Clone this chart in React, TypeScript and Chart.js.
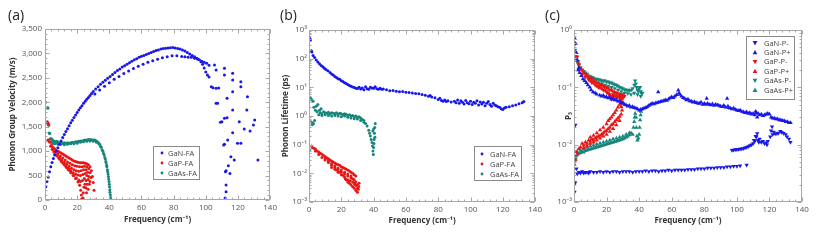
import React, { useEffect, useRef } from 'react';
import { Chart, registerables } from 'chart.js';
Chart.register(...registerables);

type P = [number, number];

// ---------- Panel (a): phonon group velocity (m/s) ----------
const freqTicks = [0, 20, 40, 60, 80, 100, 120, 140];
const velocityTicks = [0, 500, 1000, 1500, 2000, 2500, 3000, 3500];

const ganFaVelocity: P[] = [
  [0.5, 270], [1.2, 380], [2, 470], [2.8, 580], [3.6, 680], [4.4, 770], [5.2, 850], [6, 920], [7, 1000], [8, 1070],
  [9, 1140], [10, 1210], [11, 1280], [12, 1340], [13, 1400], [14, 1460], [15, 1520], [16, 1580], [17, 1630], [18, 1690],
  [19, 1740], [20, 1790], [21, 1840], [22, 1890], [23, 1930], [24, 1980], [25, 2020], [26, 2060], [27, 2100], [28, 2140],
  [29, 2180], [30, 2220], [31.5, 2270], [33, 2320], [34.5, 2370], [36, 2410], [37.5, 2450], [39, 2490], [40.5, 2530],
  [42, 2570], [43.5, 2610], [45, 2650], [46.5, 2680], [48, 2720], [49.5, 2750], [51, 2780], [52.5, 2810], [54, 2840],
  [55.5, 2870], [57, 2890], [58.5, 2920], [60, 2940], [61.5, 2960], [63, 2980], [64.5, 3000], [66, 3020], [67.5, 3040],
  [69, 3060], [70.5, 3070], [72, 3090], [73.5, 3100], [75, 3105], [76.5, 3110], [78, 3115], [79.5, 3120], [81, 3110],
  [82.5, 3100], [84, 3090], [85.5, 3070], [87, 3050], [88.5, 3020], [90, 2990], [91.5, 2960], [93, 2930], [94.5, 2900],
  [96, 2870], [97.5, 2840], [99, 2820], [100.5, 2800], [102, 2760],
  [31, 2170], [34, 2250], [37, 2330], [40, 2400], [43, 2470], [46, 2530], [49, 2590], [52, 2640], [55, 2690], [58, 2740],
  [61, 2780], [64, 2820], [67, 2850], [70, 2880], [73, 2910], [76, 2930], [79, 2950], [82, 2950], [85, 2935], [87, 2930],
  [89, 2920], [91, 2920], [93, 2900], [95, 2880], [97, 2830], [98, 2780], [99, 2700], [100, 2620], [101, 2560], [102, 2520],
  [105.4, 2763], [106.4, 2661], [111.6, 2695], [111.6, 2558], [116.7, 2593], [116.7, 2456], [121.8, 2422], [121.8, 2319],
  [103.4, 2319], [104.5, 2300], [106.4, 2285], [108, 2290], [106.4, 1979], [107.3, 1980], [109.1, 1590], [110, 1600],
  [111.6, 1672], [113.2, 2081], [113.2, 1685], [113.6, 1228], [116.7, 2217], [116.7, 1842], [116.7, 1378], [111.1, 1126],
  [111.6, 1140], [112.2, 579], [112.6, 600], [112.6, 307], [112.6, 170], [112, 40], [112.3, 0], [115.6, 887], [117.7, 819],
  [119.7, 1160], [121.8, 1160], [120.8, 1603], [125.9, 2115], [125.5, 1842], [123.9, 1453], [127.5, 1412], [129.6, 1535],
  [130.4, 1637], [132.4, 819], [114, 700], [115, 540],
];

const gapFaVelocity: P[] = [
  [0.3, 2000], [1.5, 1600], [1.7, 1570], [2, 1540], [1.8, 1230], [2.3, 1210],
  [2.5, 1230], [3, 1180], [4, 1120], [5, 1080], [6, 1050], [7, 1020], [8, 1000], [9, 980], [10, 960], [11, 940], [12, 920],
  [13, 900], [14, 880], [15, 860], [16, 840], [17, 820], [18, 800], [19, 790], [20, 780], [21, 770], [22, 760], [23, 760],
  [24, 760], [25, 750], [26, 740], [27, 720], [28, 680], [28.8, 600], [29.5, 480], [30, 360], [30.5, 200], [31, 0],
  [3.5, 1100], [5, 1030], [6.5, 980], [8, 940], [9.5, 900], [11, 860], [12.5, 820], [14, 780], [15.5, 750], [17, 720],
  [18.5, 700], [20, 690], [21.5, 680], [23, 680], [24.5, 690], [26, 680], [27.2, 640], [28, 560], [28.7, 460],
  [4.5, 1040], [6, 970], [7.5, 920], [9, 870], [10.5, 820], [12, 770], [13.5, 730], [15, 690], [16.5, 650], [18, 620],
  [19.5, 600], [21, 590], [22.5, 600], [24, 620], [25.5, 620], [26.5, 570], [27.3, 480], [28, 380],
  [5.5, 990], [7, 920], [8.5, 860], [10, 800], [11.5, 750], [13, 700], [14.5, 650], [16, 600], [17.5, 560], [19, 530],
  [20.5, 510], [22, 500], [23.5, 520], [25, 540], [26, 500], [26.8, 420], [27.5, 320],
  [7.5, 900], [9, 840], [10.5, 780], [12, 720], [13.5, 660], [15, 610], [16.5, 560], [18, 500], [19.5, 450], [21, 410],
  [22, 380], [23.3, 400], [24.5, 440], [25.5, 400], [26.2, 320], [26.8, 220],
  [10, 820], [11.5, 750], [13, 680], [14.5, 620], [16, 560], [17.5, 500], [19, 440], [20.5, 370], [21.5, 300], [22.2, 200],
  [22.6, 100], [22.8, 20], [23.5, 40], [23.8, 150], [24.2, 260], [24.8, 320], [25.4, 250], [25.8, 150],
];

const gaasFaVelocity: P[] = [
  [1.6, 1895], [1.8, 1880], [2.2, 1560], [2.4, 1530], [2.6, 1370], [3, 1360], [3.5, 1260], [4, 1250], [4.5, 1240],
  [5, 1220], [5.5, 1200], [6, 1190], [6.5, 1180], [7, 1200], [7.5, 1170], [8, 1190], [9, 1170], [10, 1180], [11, 1160],
  [12, 1170], [13, 1160], [14, 1170], [15, 1160], [16, 1170], [17, 1180], [18, 1170], [19, 1190], [20, 1190], [21, 1200],
  [22, 1210], [23, 1210], [24, 1220], [25, 1230], [26, 1230], [27, 1240], [28, 1240], [29, 1235], [30, 1230], [31, 1230],
  [32, 1210], [33, 1180], [34, 1140], [35, 1080], [36, 1000], [36.8, 920], [37.5, 840], [38, 760], [38.5, 680], [39, 580],
  [39.4, 480], [39.8, 380], [40.1, 270], [40.4, 160], [40.6, 60], [40.7, 0],
  [4, 1180], [5, 1160], [6, 1150], [8, 1140], [10, 1140], [12, 1130], [14, 1140], [16, 1150], [18, 1150], [20, 1160],
  [22, 1180], [24, 1190], [26, 1200], [28, 1210], [30, 1200], [32, 1180], [33.5, 1150], [34.5, 1100], [35.5, 1030],
  [36.4, 950], [37.2, 870], [37.8, 790], [38.3, 710], [38.8, 620], [39.2, 530], [39.6, 430], [40, 320], [40.3, 210],
  [40.6, 110], [40.9, 20],
];

// ---------- Panel (b): phonon lifetime (ps) ----------
const lifetimeTicks = [1e-3, 1e-2, 1e-1, 1, 10, 100, 1000];

const ganFaLifetime: P[] = [
  [0.5, 510], [0.9, 450], [1.4, 190], [1.8, 170], [2.5, 130], [3.5, 110], [4.5, 90], [5.5, 77], [6.5, 66], [7.5, 58],
  [8.6, 52], [9.5, 46], [10.5, 42], [11.7, 38], [13, 33], [14, 29], [15, 27], [16, 24], [17, 22], [18, 20], [19, 19],
  [20, 17], [21, 16], [22, 14.4], [23, 13.5], [24, 12.5], [25, 11.5], [26, 11], [27, 10.2], [28, 9.8], [29, 9.3], [30, 9.1],
  [31, 10], [32, 8.8], [33, 9.5], [34, 8.2], [35, 10.5], [36, 9], [37, 8.5], [38, 10], [39, 9.5], [40, 9.3], [41, 10.5],
  [42, 9], [43, 8.6], [44, 9.2], [45, 8.5], [46, 8.8], [48, 8.2], [50, 7.6], [52, 7.8], [54, 7.3], [56, 7], [58, 7.1],
  [60, 6.8], [62, 6.6], [64, 6.4], [66, 6.1], [68, 6], [70, 5.6], [72, 5.3], [74, 4.9], [75, 5.2], [76, 4.6], [78, 4.3],
  [80, 3.8], [81, 4.2], [82, 3.5], [83, 3.3], [84, 3.6], [85, 3.2], [86, 3.4], [88, 3.1], [90, 3.3], [91, 2.9], [92, 3.6],
  [93, 2.8], [94, 3.4], [95, 3], [96, 2.6], [97, 3.5], [98, 2.9], [99, 2.7], [100, 3.3], [101, 2.5], [102, 3], [103, 2.8],
  [104, 3.4], [105, 2.4], [106, 3.1], [107, 2.6], [108, 3], [109, 2.3], [110, 2.8], [111, 3.2], [112, 2.5], [113, 2.2],
  [114, 2.8], [115, 2.4], [116, 2.3], [117, 2.1], [118, 2], [119, 1.8], [120, 1.7], [121, 1.9], [122, 2], [124, 2.1],
  [126, 2.3], [128, 2.4], [130, 2.7], [132, 2.9], [133, 3.2],
];

const gapFaLifetime: P[] = [
  [0.8, 0.085], [1.5, 0.09], [2, 0.08], [3, 0.075], [4, 0.07], [5, 0.06], [6, 0.055], [7, 0.05], [8, 0.046], [9, 0.042],
  [10, 0.038], [11, 0.035], [12, 0.032], [13, 0.029], [14, 0.027], [15, 0.025], [16, 0.023], [17, 0.021], [18, 0.02],
  [19, 0.019], [20, 0.017], [21, 0.016], [22, 0.015], [23, 0.014], [24, 0.013], [25, 0.012], [26, 0.011], [27, 0.01],
  [28, 0.009], [29, 0.008],
  [4, 0.06], [6, 0.045], [8, 0.036], [10, 0.029], [12, 0.024], [14, 0.019], [16, 0.016], [18, 0.013], [20, 0.011],
  [22, 0.0095], [24, 0.008], [26, 0.007], [28, 0.006], [29, 0.005],
  [10, 0.032], [12, 0.027], [14, 0.022], [16, 0.018], [18, 0.015], [20, 0.013], [22, 0.011], [24, 0.0095], [26, 0.008],
  [27, 0.0065], [28, 0.0045], [29, 0.0038], [30, 0.003],
  [14, 0.016], [16, 0.014], [18, 0.011], [20, 0.009], [22, 0.0075], [23, 0.006], [24, 0.005], [25, 0.0045], [26, 0.004],
  [27, 0.0035], [28, 0.003], [29, 0.0025], [30, 0.0022], [30.5, 0.0028], [30.8, 0.0035], [31, 0.0045],
  [17, 0.013], [19, 0.011], [21, 0.0085], [22.5, 0.0065], [24, 0.006], [25.5, 0.0055], [27, 0.005], [28.5, 0.0042], [30, 0.004],
];

const gaasFaLifetime: P[] = [
  [0.4, 0.065], [1, 4.2], [1.5, 3.8], [2.5, 3.3], [2, 0.5], [2.8, 0.55], [3.5, 0.7], [1.6, 0.6], [3, 2.0], [4, 1.6],
  [4.5, 2.2], [5, 1.4], [5.5, 2.5], [6, 1.1], [6.5, 1.6], [7, 1.3], [7.5, 1.8], [8, 1.2], [9, 1.4], [10, 1.3], [11, 1.25],
  [12, 1.35], [13, 1.2], [14, 1.3], [15, 1.25], [16, 1.2], [17, 1.3], [18, 1.15], [19, 1.25], [20, 1.2], [21, 1.1],
  [22, 1.2], [23, 1.15], [24, 1.05], [25, 1.1], [26, 1.0], [27, 1.05], [28, 0.95], [29, 1.0], [30, 0.9], [31, 0.95],
  [32, 0.85], [33, 0.75], [34, 0.7], [35, 0.55], [36, 0.45], [37, 0.32], [37.5, 0.25], [38, 0.2], [38.5, 0.15], [39, 0.12],
  [39.3, 0.09], [39.6, 0.06], [39.8, 0.045], [40, 0.08], [40.3, 0.15], [40.5, 0.25], [40.7, 0.4], [41, 0.55], [40.2, 0.11],
  [40.8, 0.18], [39.5, 0.3], [40, 0.35],
  [8, 1.05], [10, 1.1], [12, 1.05], [14, 1.0], [16, 1.05], [18, 1.0], [20, 0.95], [22, 1.0], [24, 0.9], [26, 0.85],
  [28, 0.8], [30, 0.78], [32, 0.7], [34, 0.6],
];

// ---------- Panel (c): phase space P3 ----------
const p3Ticks = [1e-3, 1e-2, 1e-1, 1];

const ganPMinus: P[] = [
  [0.3, 0.0015], [0.5, 0.0021], [0.8, 0.022], [1.5, 0.0038], [2, 0.0031], [3, 0.0033], [4, 0.0032], [5, 0.0034], [6, 0.0032],
  [7, 0.0033], [8, 0.0033], [9, 0.0032], [10, 0.0034], [12, 0.0033], [14, 0.0033], [16, 0.0034], [18, 0.0033], [20, 0.0034],
  [22, 0.0033], [24, 0.0034], [26, 0.0034], [28, 0.0033], [30, 0.0034], [32, 0.0034], [34, 0.0034], [36, 0.0033], [38, 0.0034],
  [40, 0.0034], [42, 0.0034], [44, 0.0035], [46, 0.0034], [48, 0.0035], [50, 0.0035], [52, 0.0034], [54, 0.0035], [56, 0.0035],
  [58, 0.0036], [60, 0.0035], [62, 0.0036], [64, 0.0036], [66, 0.0036], [68, 0.0036], [70, 0.0037], [72, 0.0037], [74, 0.0037],
  [76, 0.0038], [78, 0.0038], [80, 0.0038], [82, 0.0039], [84, 0.0039], [86, 0.0039], [88, 0.004], [90, 0.004], [92, 0.004],
  [94, 0.0041], [96, 0.0041], [98, 0.0042], [100, 0.0042], [102, 0.0043], [106, 0.0044],
  [97, 0.008], [98, 0.0081], [99, 0.0082], [100, 0.0082], [101, 0.0083], [102, 0.0084], [103, 0.0085], [104, 0.0086],
  [105, 0.0088], [106, 0.009], [107, 0.0093], [108, 0.0097], [109, 0.01], [110, 0.0105], [110.5, 0.012], [111, 0.0115],
  [111.5, 0.014], [112, 0.0137], [112.5, 0.0156], [113, 0.012], [113.5, 0.011], [114, 0.0125], [115, 0.011], [116, 0.0115],
  [117, 0.0105], [118, 0.0108], [118.5, 0.01], [119, 0.0115], [120.5, 0.0137], [121, 0.0175], [121.6, 0.0205], [122, 0.015],
  [122.6, 0.0167], [123.5, 0.0155], [124.6, 0.0156], [125.5, 0.016], [126.7, 0.0172], [127.5, 0.0165], [128.7, 0.0158],
  [130, 0.015], [130.8, 0.0137], [132, 0.0125], [132.9, 0.011],
];

const ganPPlus: P[] = [
  [0.5, 0.71], [1, 0.58], [1.5, 0.4], [2, 0.3], [2.5, 0.2], [3, 0.22], [3.5, 0.18], [4.5, 0.16], [5.5, 0.14], [6.5, 0.13],
  [7.6, 0.12], [8.5, 0.11], [9.7, 0.1], [10.5, 0.09], [11.7, 0.083], [13, 0.08], [14, 0.076], [15.8, 0.073], [17, 0.07],
  [18, 0.072], [19, 0.068], [20, 0.068], [21, 0.065], [22, 0.066], [23, 0.062], [24, 0.063], [25, 0.06], [26, 0.06],
  [27, 0.057], [28, 0.058], [29, 0.054], [30, 0.052], [31, 0.05], [32, 0.049], [33, 0.047], [34, 0.048], [35, 0.045],
  [36, 0.046], [37, 0.044], [38, 0.043], [39, 0.042], [40, 0.04], [41, 0.041], [42, 0.042], [43, 0.043], [44, 0.044],
  [45, 0.046], [46, 0.048], [47, 0.05], [48, 0.052], [49, 0.051], [50, 0.053], [51, 0.054], [51.7, 0.083], [52, 0.055],
  [53, 0.056], [54, 0.057], [55, 0.058], [56, 0.06], [57, 0.059], [58, 0.062], [59, 0.065], [60, 0.068], [61, 0.066],
  [62, 0.07], [63, 0.074], [64, 0.089], [64.5, 0.08], [65, 0.075], [66, 0.07], [67, 0.066], [68, 0.064], [69, 0.06],
  [70, 0.062], [71, 0.058], [72, 0.057], [73, 0.055], [74, 0.056], [75, 0.054], [76, 0.053], [77, 0.052], [78, 0.055],
  [79, 0.05], [80, 0.052], [81, 0.05], [81.5, 0.064], [82, 0.052], [83, 0.05], [84, 0.049], [85, 0.051], [86, 0.048],
  [87, 0.05], [88, 0.049], [89, 0.048], [90, 0.047], [91, 0.046], [92, 0.048], [93, 0.045], [94, 0.064], [94.5, 0.047],
  [95, 0.044], [96, 0.043], [97, 0.042], [98, 0.043], [99, 0.041], [100, 0.04], [101, 0.039], [102, 0.04], [103, 0.038],
  [104, 0.037], [105, 0.036], [106, 0.037], [107, 0.035], [108, 0.036], [109, 0.034], [110, 0.035], [111, 0.033],
  [111.5, 0.038], [112, 0.036], [112.5, 0.03], [113, 0.035], [114, 0.033], [115, 0.034], [116, 0.032], [117, 0.033],
  [118, 0.034], [119, 0.035], [120, 0.034], [121, 0.03], [122, 0.029], [123, 0.029], [124, 0.028], [125, 0.028],
  [126, 0.027], [127, 0.027], [128, 0.026], [129, 0.026], [130, 0.025], [131, 0.025], [132, 0.024], [133, 0.024],
];

const gapPMinus: P[] = [
  [0.6, 0.0022], [2, 0.34], [2.5, 0.28], [3, 0.25], [3.5, 0.22], [4, 0.21], [5, 0.2], [6, 0.18], [7, 0.17], [8, 0.16],
  [9, 0.15], [10, 0.145], [11, 0.14], [12, 0.13], [13, 0.125], [14, 0.12], [15, 0.115], [16, 0.11], [17, 0.11], [18, 0.105],
  [19, 0.1], [20, 0.1], [21, 0.095], [22, 0.09], [23, 0.09], [24, 0.085], [25, 0.082], [26, 0.08], [27, 0.078], [28, 0.076],
  [29, 0.074], [30, 0.072], [31, 0.07],
  [5, 0.17], [7, 0.15], [9, 0.135], [11, 0.12], [13, 0.11], [15, 0.1], [17, 0.095], [19, 0.09], [20, 0.085], [21, 0.08],
  [22, 0.075], [22.5, 0.068], [23, 0.062], [23.5, 0.07], [24, 0.075], [25, 0.072], [26, 0.07], [27, 0.068], [28, 0.066],
  [29, 0.065], [30, 0.066],
  [10, 0.13], [12, 0.12], [14, 0.105], [16, 0.098], [18, 0.09], [20, 0.082], [21.5, 0.075], [22.5, 0.07], [23, 0.065],
  [24, 0.068], [26, 0.065], [28, 0.07], [30, 0.075],
];

const gapPPlus: P[] = [
  [1, 0.0055], [1.5, 0.0075], [2, 0.0068], [3, 0.0085], [4, 0.009], [5, 0.0105], [6, 0.0098], [7, 0.011], [8, 0.0105],
  [9, 0.012], [10, 0.0115], [11, 0.0125], [12, 0.012], [13, 0.013], [14, 0.0135], [15, 0.014], [16, 0.0145], [17, 0.015],
  [18, 0.016], [19, 0.017], [20, 0.0175], [21, 0.019], [22, 0.02], [23, 0.022], [24, 0.023], [25, 0.025], [26, 0.027],
  [27, 0.029], [28, 0.031], [29, 0.034], [29.5, 0.04], [29, 0.046], [30, 0.055], [29.5, 0.064], [30, 0.07],
  [10, 0.0135], [12, 0.0145], [14, 0.016], [16, 0.018], [18, 0.02], [20, 0.023], [21, 0.026], [22, 0.028], [23, 0.03],
  [24, 0.033], [25, 0.036], [26, 0.04], [27, 0.045], [28, 0.05], [29, 0.058],
  [6, 0.0088], [8, 0.0095], [10, 0.0105], [12, 0.011], [14, 0.012], [16, 0.013], [18, 0.014], [20, 0.015], [22, 0.017],
  [24, 0.019], [26, 0.022], [28, 0.026],
];

const gaasPMinus: P[] = [
  [0.3, 0.55], [0.6, 0.45], [1, 0.35], [1.5, 0.3], [2, 0.28], [2.5, 0.26], [3, 0.24], [4, 0.22], [5, 0.2], [6, 0.19],
  [7, 0.18], [8, 0.17], [9, 0.16], [10, 0.155], [11, 0.15], [12, 0.145], [13, 0.14], [14, 0.14], [15, 0.135], [16, 0.135],
  [17, 0.13], [18, 0.13], [19, 0.13], [20, 0.125], [21, 0.125], [22, 0.12], [23, 0.12], [24, 0.115], [25, 0.112], [26, 0.11],
  [27, 0.105], [28, 0.1], [29, 0.098], [30, 0.095], [31, 0.092], [32, 0.09], [33, 0.09], [34, 0.088], [35, 0.09], [36, 0.095],
  [37, 0.11], [37.5, 0.13], [38, 0.115], [38.5, 0.1], [39, 0.09], [39.5, 0.085], [40, 0.095], [40.5, 0.1], [41, 0.085],
  [41.5, 0.078], [42, 0.08], [40.5, 0.04],
  [3, 0.2], [5, 0.17], [7, 0.155], [9, 0.14], [11, 0.13], [13, 0.125], [15, 0.12], [17, 0.115], [19, 0.11], [21, 0.105],
  [23, 0.1], [25, 0.095], [27, 0.09], [29, 0.085], [31, 0.08], [33, 0.078], [35, 0.075], [37, 0.08], [39, 0.075], [41, 0.07],
];

const gaasPPlus: P[] = [
  [0.3, 0.0045], [0.5, 0.0053], [1, 0.006], [1.5, 0.0065], [2, 0.0068], [3, 0.007], [4, 0.0072], [5, 0.0075], [6, 0.0074],
  [7, 0.0078], [8, 0.008], [9, 0.0082], [10, 0.0083], [11, 0.0085], [12, 0.0087], [13, 0.0088], [14, 0.009], [15, 0.0092],
  [16, 0.0094], [17, 0.0096], [18, 0.0098], [19, 0.01], [20, 0.0102], [21, 0.0104], [22, 0.0106], [23, 0.0108], [24, 0.011],
  [25, 0.0112], [26, 0.0115], [27, 0.0118], [28, 0.012], [29, 0.0123], [30, 0.0126], [31, 0.013], [32, 0.0135], [33, 0.014],
  [34, 0.0147], [35, 0.016],
  [36, 0.015], [36.5, 0.02], [37, 0.025], [37.3, 0.03], [37.6, 0.035], [38, 0.03], [38.3, 0.02], [38.6, 0.014], [39, 0.012],
  [39.5, 0.013], [40, 0.015], [40.3, 0.02], [40.6, 0.027], [40.9, 0.033], [41.2, 0.038],
  [2, 0.0075], [4, 0.008], [6, 0.0085], [8, 0.009], [10, 0.0095], [12, 0.0098], [14, 0.0102], [16, 0.0106], [18, 0.011],
  [20, 0.0115], [22, 0.012], [24, 0.0125], [26, 0.013], [28, 0.0135], [30, 0.014], [32, 0.015], [34, 0.016],
];

// ---------- styling ----------
const BLUE = 'rgb(24,24,235)';
const RED = 'rgb(232,22,22)';
const TEAL = 'rgb(22,134,124)';
const FONT = "'Open Sans', 'Noto Sans', sans-serif";
const TICK_COLOR = '#555';
const TITLE_COLOR = '#333';

const pts = (a: P[]) => a.map(([x, y]) => ({ x, y }));
const SUP: Record<string, string> = { '-': '⁻', '0': '⁰', '1': '¹', '2': '²', '3': '³' };
const logLabel = (v: number) =>
  '10' + String(Math.round(Math.log10(v))).split('').map((c) => SUP[c]).join('');

const framePlugin = {
  id: 'frameTicks',
  afterDatasetsDraw(chart: any, _args: any, opts: any) {
    const { ctx, chartArea: a, scales } = chart;
    ctx.save();
    ctx.strokeStyle = '#a8a8a8';
    ctx.lineWidth = 1;
    const L = Math.round(a.left) + 0.5, T = Math.round(a.top) + 0.5;
    const R = Math.round(a.right) - 0.5, B = Math.round(a.bottom) - 0.5;
    ctx.strokeRect(L, T, R - L, B - T);
    const tickSet = (scale: any, minor: number) => {
      const majors: number[] = scale.ticks.map((t: any) => t.value);
      const out = majors.map((v) => ({ v, major: true }));
      if (scale.type === 'logarithmic') {
        for (const m of majors) for (let k = 2; k < 10; k++) if (m * k < scale.max) out.push({ v: m * k, major: false });
      } else {
        for (let i = 0; i < majors.length - 1; i++) {
          const st = (majors[i + 1] - majors[i]) / minor;
          for (let k = 1; k < minor; k++) out.push({ v: majors[i] + k * st, major: false });
        }
      }
      return out;
    };
    ctx.beginPath();
    for (const t of tickSet(scales.x, opts.xMinor)) {
      const px = Math.round(scales.x.getPixelForValue(t.v)) + 0.5;
      const len = t.major ? 4 : 2;
      ctx.moveTo(px, B); ctx.lineTo(px, B - len);
      ctx.moveTo(px, T); ctx.lineTo(px, T + len);
    }
    for (const t of tickSet(scales.y, opts.yMinor)) {
      const py = Math.round(scales.y.getPixelForValue(t.v)) + 0.5;
      const len = t.major ? 4 : 2;
      ctx.moveTo(L, py); ctx.lineTo(L + len, py);
      ctx.moveTo(R, py); ctx.lineTo(R - len, py);
    }
    ctx.stroke();

    // panel label
    ctx.fillStyle = '#222';
    ctx.font = `14px ${FONT}`;
    ctx.textBaseline = 'middle';
    ctx.textAlign = 'left';
    ctx.fillText(opts.label, opts.labelX, 16);

    // legend box
    const lg = opts.legend;
    ctx.fillStyle = '#fff';
    ctx.fillRect(lg.x + 0.5, lg.y + 0.5, lg.w, lg.h);
    ctx.strokeStyle = '#8a8a8a';
    ctx.strokeRect(lg.x + 0.5, lg.y + 0.5, lg.w, lg.h);
    ctx.font = `7.5px ${FONT}`;
    chart.data.datasets.forEach((ds: any, i: number) => {
      const y = lg.y + lg.first + i * lg.row;
      const x = lg.x + lg.mx;
      ctx.fillStyle = ds.backgroundColor;
      ctx.beginPath();
      if (ds.pointStyle === 'triangle') {
        const r = 2.4;
        const dir = ds.pointRotation === 180 ? -1 : 1;
        ctx.moveTo(x, y - dir * r);
        ctx.lineTo(x - r, y + dir * r * 0.8);
        ctx.lineTo(x + r, y + dir * r * 0.8);
        ctx.closePath();
      } else {
        ctx.arc(x, y, 1.4, 0, Math.PI * 2);
      }
      ctx.fill();
      ctx.fillStyle = '#444';
      ctx.fillText(ds.label, lg.x + lg.tx, y + 0.5);
    });
    ctx.restore();
  },
};

function makeConfig(p: {
  datasets: any[]; yType: 'linear' | 'logarithmic'; yMin: number; yMax: number; xTicks: number[]; yTicks: number[];
  yLabel: (v: number) => string; yTitle: string; yTitlePad: number; yWidth: number; xHeight: number; xTitlePad: number;
  padTop: number; padRight: number; tickPadY: number; label: string; labelX: number; legend: any; yMinor: number;
}) {
  const tickFont = { family: FONT, size: 8 };
  const titleFont = { family: FONT, size: 8, weight: 'bold' as const };
  return {
    type: 'scatter' as const,
    data: { datasets: p.datasets },
    plugins: [framePlugin],
    options: {
      responsive: false,
      animation: false as const,
      events: [],
      layout: { padding: { top: p.padTop, right: p.padRight, left: 0, bottom: 0 } },
      plugins: {
        legend: { display: false },
        tooltip: { enabled: false },
        frameTicks: { xMinor: 5, yMinor: p.yMinor, label: p.label, labelX: p.labelX, legend: p.legend },
      },
      scales: {
        x: {
          type: 'linear', min: 0, max: 140,
          afterBuildTicks: (s: any) => { s.ticks = p.xTicks.map((v) => ({ value: v })); },
          ticks: { font: tickFont, color: TICK_COLOR, padding: 3, maxRotation: 0, callback: (v: any) => String(v) },
          grid: { display: false, drawTicks: false },
          border: { display: false },
          title: { display: true, text: 'Frequency (cm⁻¹)', font: titleFont, color: TITLE_COLOR, padding: { top: 0, bottom: p.xTitlePad } },
          afterFit: (s: any) => { s.height = p.xHeight; },
        },
        y: {
          type: p.yType, min: p.yMin, max: p.yMax,
          afterBuildTicks: (s: any) => { s.ticks = p.yTicks.map((v) => ({ value: v })); },
          ticks: { font: tickFont, color: TICK_COLOR, padding: p.tickPadY, callback: (v: any) => p.yLabel(Number(v)) },
          grid: { display: false, drawTicks: false },
          border: { display: false },
          title: { display: true, text: p.yTitle, font: titleFont, color: TITLE_COLOR, padding: { top: p.yTitlePad, bottom: 0 } },
          afterFit: (s: any) => { s.width = p.yWidth; },
        },
      },
    },
  };
}

const dot = (label: string, data: P[], color: string) => ({
  label, data: pts(data), backgroundColor: color, borderWidth: 0, pointRadius: 1.5, pointStyle: 'circle',
});
const tri = (label: string, data: P[], color: string, down: boolean) => ({
  label, data: pts(data), backgroundColor: color, borderWidth: 0, pointRadius: 2.5, pointStyle: 'triangle',
  pointRotation: down ? 180 : 0,
});

export default function App() {
  const refA = useRef<HTMLCanvasElement>(null);
  const refB = useRef<HTMLCanvasElement>(null);
  const refC = useRef<HTMLCanvasElement>(null);

  useEffect(() => {
    const charts: Chart[] = [];
    charts.push(new Chart(refA.current!, makeConfig({
      datasets: [dot('GaN-FA', ganFaVelocity, BLUE), dot('GaP-FA', gapFaVelocity, RED), dot('GaAs-FA', gaasFaVelocity, TEAL)],
      yType: 'linear', yMin: 0, yMax: 3500, xTicks: freqTicks, yTicks: velocityTicks,
      yLabel: (v) => v.toLocaleString('en-US'), yTitle: 'Phonon Group Velocity (m/s)', yTitlePad: 8, yWidth: 45,
      xHeight: 41, xTitlePad: 16, padTop: 29, padRight: 7, tickPadY: 3, label: '(a)', labelX: 8,
      legend: { x: 153, y: 146, w: 46, h: 33, first: 7, row: 10, mx: 9, tx: 15 }, yMinor: 5,
    }) as any));
    charts.push(new Chart(refB.current!, makeConfig({
      datasets: [dot('GaN-FA', ganFaLifetime, BLUE), dot('GaP-FA', gapFaLifetime, RED), dot('GaAs-FA', gaasFaLifetime, TEAL)],
      yType: 'logarithmic', yMin: 1e-3, yMax: 1e3, xTicks: freqTicks, yTicks: lifetimeTicks,
      yLabel: logLabel, yTitle: 'Phonon Lifetime (ps)', yTitlePad: 6, yWidth: 34,
      xHeight: 39, xTitlePad: 15, padTop: 30, padRight: 8, tickPadY: 2, label: '(b)', labelX: 5,
      legend: { x: 199, y: 146, w: 47, h: 34, first: 8, row: 10, mx: 8, tx: 16 }, yMinor: 5,
    }) as any));
    charts.push(new Chart(refC.current!, makeConfig({
      datasets: [
        tri('GaN-P-', ganPMinus, BLUE, true), tri('GaN-P+', ganPPlus, BLUE, false),
        tri('GaP-P-', gapPMinus, RED, true), tri('GaP-P+', gapPPlus, RED, false),
        tri('GaAs-P-', gaasPMinus, TEAL, true), tri('GaAs-P+', gaasPPlus, TEAL, false),
      ],
      yType: 'logarithmic', yMin: 1e-3, yMax: 1, xTicks: freqTicks, yTicks: p3Ticks,
      yLabel: logLabel, yTitle: 'P₃', yTitlePad: 24, yWidth: 34,
      xHeight: 39, xTitlePad: 15, padTop: 30, padRight: 15, tickPadY: 2, label: '(c)', labelX: 5,
      legend: { x: 206, y: 36, w: 48, h: 63, first: 7, row: 9.4, mx: 9, tx: 18 }, yMinor: 5,
    }) as any));
    return () => charts.forEach((c) => c.destroy());
  }, []);

  const base: React.CSSProperties = { position: 'absolute', top: 0 };
  return (
    <div style={{ position: 'absolute', left: 0, top: 0, width: 817, height: 241, background: '#fff' }}>
      <canvas ref={refA} width={280} height={241} style={{ ...base, left: 0 }} />
      <canvas ref={refB} width={270} height={241} style={{ ...base, left: 275 }} />
      <canvas ref={refC} width={277} height={241} style={{ ...base, left: 540 }} />
    </div>
  );
}
